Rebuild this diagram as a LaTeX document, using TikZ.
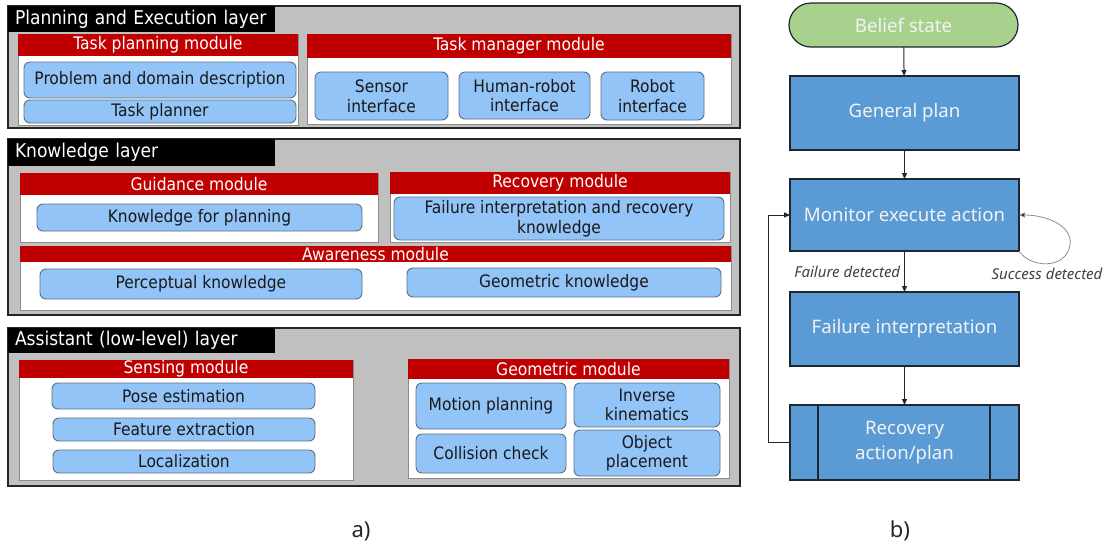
\documentclass[tikz,border=0pt]{standalone}
\usepackage{fontspec}
\setmainfont{DejaVu Sans Condensed}
\newfontfamily\flowfont{Noto Sans}
\usetikzlibrary{arrows.meta}

\definecolor{hdrred}{HTML}{C00000}
\definecolor{layergray}{HTML}{C0C0C0}
\definecolor{itemblue}{HTML}{92C4F8}
\definecolor{itemedge}{HTML}{5C6F82}
\definecolor{flowblue}{HTML}{5B9BD5}
\definecolor{flowedge}{HTML}{1E2731}
\definecolor{beliefgreen}{HTML}{A9D18E}
\definecolor{flowtext}{HTML}{F2F2F2}

% box given by its corners: style, name, x1, y1, x2, y2, text
\newcommand\blk[7]{%
  \node[#1,anchor=north west,inner ysep=0pt,
        minimum width={(#5-#3)*1pt},minimum height={(#6-#4)*1pt}]
        (#2) at (#3,#4) {#7};}

\tikzset{
  every node/.style={outer sep=0pt},
  layer/.style={fill=layergray,draw=black!85,line width=1.6pt},
  tab/.style={fill=black,text=white,inner xsep=7pt,text width=253pt,align=left,
              font=\fontsize{19}{20}\selectfont},
  modbody/.style={fill=white,draw=black!45,line width=0.8pt},
  header/.style={fill=hdrred,text=white,inner xsep=0pt,
                 font=\fontsize{17.3}{17}\selectfont},
  item/.style={fill=itemblue,draw=itemedge,line width=0.9pt,rounded corners=6pt,
               align=center,text=black!90,inner xsep=2pt,
               font=\fontsize{17.2}{19.5}\selectfont},
  flowbox/.style={fill=flowblue,draw=flowedge,line width=1.2pt,text=flowtext,
                  align=center,font=\flowfont\fontsize{18.6}{25}\selectfont},
  flowarrow/.style={draw=black!85,line width=1pt,-{Triangle[length=6pt,width=5pt]}},
  flowlabel/.style={font=\flowfont\itshape\fontsize{15}{16}\selectfont,text=black!75},
  caption/.style={font=\flowfont\fontsize{22}{24}\selectfont,text=black!85}
}

\begin{document}
\begin{tikzpicture}[x=1pt,y=-1pt]
\useasboundingbox (0,0) rectangle (1108,547);

% ---------------- Planning and Execution layer ----------------
\blk{layer}{L1}{8}{6}{740}{128}{}
\blk{tab}{L1tab}{8}{6}{275}{32}{Planning and Execution layer}
\blk{modbody}{TPbody}{18}{34}{298}{125}{}
\blk{header}{TPhead}{18}{34}{298}{56}{Task planning module}
\blk{item}{pdd}{24}{62}{296}{98}{Problem and domain description}
\blk{item}{tplanner}{24}{100}{296}{123}{Task planner}
\blk{modbody}{TMbody}{307}{34}{731}{124}{}
\blk{header}{TMhead}{307}{34}{731}{58}{Task manager module}
\blk{item}{sensorif}{315}{72}{448}{120}{Sensor\\interface}
\blk{item}{hrif}{459}{72}{590}{119}{Human-robot\\interface}
\blk{item}{robotif}{601}{72}{704}{120}{Robot\\interface}

% ---------------- Knowledge layer ----------------
\blk{layer}{L2}{8}{139}{740}{315}{}
\blk{tab}{L2tab}{8}{139}{275}{166}{Knowledge layer}
\blk{modbody}{GMbody}{20}{173}{378}{242}{}
\blk{header}{GMhead}{20}{173}{378}{195}{Guidance module}
\blk{item}{kfp}{37}{204}{362}{231}{Knowledge for planning}
\blk{modbody}{RMbody}{390}{172}{730}{242}{}
\blk{header}{RMhead}{390}{172}{730}{194}{Recovery module}
\blk{item}{firk}{394}{197}{724}{240}{Failure interpretation and recovery\\knowledge}
\blk{modbody}{AMbody}{20}{246}{731}{310}{}
\blk{header}{AMhead}{20}{246}{731}{262}{Awareness module}
\blk{item}{percep}{40}{269}{362}{299}{Perceptual knowledge}
\blk{item}{geomk}{407}{268}{721}{297}{Geometric knowledge}

% ---------------- Assistant (low-level) layer ----------------
\blk{layer}{L3}{8}{328}{740}{486}{}
\blk{tab}{L3tab}{8}{328}{275}{353}{Assistant (low-level) layer}
\blk{modbody}{SMbody}{19}{360}{353}{480}{}
\blk{header}{SMhead}{19}{360}{353}{378}{Sensing module}
\blk{item}{pose}{52}{383}{315}{409}{Pose estimation}
\blk{item}{feat}{53}{418}{315}{441}{Feature extraction}
\blk{item}{local}{53}{450}{315}{473}{Localization}
\blk{modbody}{GEbody}{408}{359}{729}{478}{}
\blk{header}{GEhead}{408}{359}{729}{379}{Geometric module}
\blk{item}{motion}{416}{383}{566}{429}{Motion planning}
\blk{item}{invkin}{574}{383}{720}{427}{Inverse\\kinematics}
\blk{item}{collision}{416}{434}{566}{473}{Collision check}
\blk{item}{objplace}{574}{430}{720}{476}{Object\\placement}

\node[caption] (capA) at (361,531) {a)};

% ---------------- Recovery flow ----------------
\blk{flowbox,fill=beliefgreen,rounded corners=22pt}{belief}{789}{3}{1018}{47}{Belief state}
\blk{flowbox}{general}{790}{76}{1019}{150}{General plan}
\blk{flowbox}{monitor}{790}{179}{1019}{251}{Monitor execute action}
\blk{flowbox}{failure}{790}{292}{1019}{366}{Failure interpretation}
\blk{flowbox}{recovery}{790}{405}{1019}{480}{Recovery\\action/plan}
\draw[flowedge,line width=1.2pt]
  ([xshift=28pt]recovery.north west) -- ([xshift=28pt]recovery.south west)
  ([xshift=-29pt]recovery.north east) -- ([xshift=-29pt]recovery.south east);

\draw[flowarrow] (belief) -- (general);
\draw[flowarrow] (general) -- (monitor);
\draw[flowarrow] (monitor) -- node[flowlabel,left,pos=0.5,xshift=-1pt] {Failure detected} (failure);
\draw[flowarrow] (failure) -- (recovery);
\draw[flowarrow] (recovery.west) -- ++(-22,0) |- (monitor.west);
\draw[draw=black!45,line width=0.8pt,
      -{Triangle[length=6pt,width=5pt,fill=black!85]}]
  (monitor.south east) .. controls (1030,268) and (1066,270) .. (1070,245)
  .. controls (1073,225) and (1045,215) .. (monitor.east);
\node[flowlabel] (success) at (1047,274) {Success detected};

\node[caption] (capB) at (900,531) {b)};
\end{tikzpicture}
\end{document}
